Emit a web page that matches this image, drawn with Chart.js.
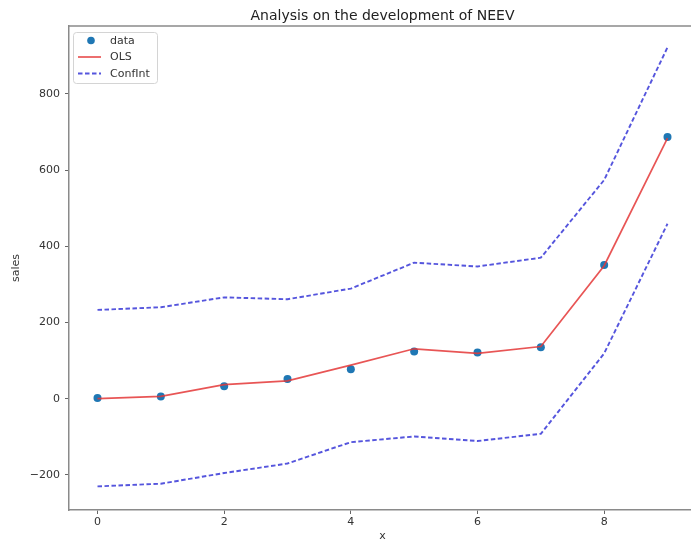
<!DOCTYPE html>
<html><head><meta charset="utf-8">
<script src="https://cdn.jsdelivr.net/npm/chart.js@4/dist/chart.umd.min.js"></script>
<style>
html,body{margin:0;padding:0;background:#fff;overflow:hidden}
#wrap{width:691px;height:542px;overflow:hidden;position:relative}
</style></head><body>
<div id="wrap"><canvas id="c" width="700" height="542"></canvas></div>
<script>
const xValues   = [0, 1, 2, 3, 4, 5, 6, 7, 8, 9];
const salesData = [2, 6, 33, 52, 77, 124, 121, 135, 351, 687];
const olsFit    = [0, 6, 37, 47, 88, 131, 119, 137, 349, 684];
const ciUpper   = [233, 240, 266, 261, 289, 357, 347, 370, 574, 922];
const ciLower   = [-230, -223, -195, -170, -114, -99, -111, -92, 119, 459];
const xTicks    = [0, 2, 4, 6, 8];
const yTicks    = [-200, 0, 200, 400, 600, 800];
const titleText = 'Analysis on the development of NEEV';

const FONT = "'DejaVu Sans', sans-serif";
const pts = arr => xValues.map((x, i) => ({x: x, y: arr[i]}));
const fmt = v => String(v).replace('-', '\u2212');

const RED = 'rgba(228,55,55,0.85)';
const BLUE = 'rgba(55,55,215,0.85)';
const DASH = [4.5, 2.5];

const framePlugin = {
  id: 'frame',
  afterDraw(chart) {
    const {ctx, chartArea: a} = chart;
    ctx.save();
    // top spine
    ctx.strokeStyle = '#8a8a8a';
    ctx.lineWidth = 1.5;
    ctx.beginPath();
    ctx.moveTo(a.left, a.top); ctx.lineTo(a.right, a.top);
    ctx.stroke();
    // title centred over the axes
    ctx.fillStyle = '#222';
    ctx.font = '14px ' + FONT;
    ctx.textAlign = 'center';
    ctx.textBaseline = 'alphabetic';
    ctx.fillText(titleText, (a.left + a.right) / 2, 19.5);
    // legend
    const ds = chart.data.datasets;
    const bx = a.left + 4, by = a.top + 6, bw = 84, bh = 51;
    ctx.fillStyle = 'rgba(255,255,255,0.85)';
    ctx.strokeStyle = '#d4d4d4';
    ctx.lineWidth = 1;
    ctx.beginPath();
    ctx.roundRect(bx + 0.5, by + 0.5, bw, bh, 3);
    ctx.fill(); ctx.stroke();
    const rows = [by + 8.5, by + 25, by + 41.5];
    ctx.font = '11px ' + FONT;
    ctx.textBaseline = 'middle';
    ctx.textAlign = 'left';
    ctx.fillStyle = ds[0].pointBackgroundColor;
    ctx.beginPath(); ctx.arc(bx + 18, rows[0], 3.8, 0, Math.PI * 2); ctx.fill();
    ctx.strokeStyle = ds[1].borderColor; ctx.lineWidth = ds[1].borderWidth;
    ctx.beginPath(); ctx.moveTo(bx + 5, rows[1]); ctx.lineTo(bx + 28, rows[1]); ctx.stroke();
    ctx.strokeStyle = ds[2].borderColor; ctx.lineWidth = ds[2].borderWidth;
    ctx.setLineDash(ds[2].borderDash);
    ctx.beginPath(); ctx.moveTo(bx + 5, rows[2]); ctx.lineTo(bx + 28, rows[2]); ctx.stroke();
    ctx.setLineDash([]);
    ctx.fillStyle = '#333';
    for (let i = 0; i < 3; i++) ctx.fillText(ds[i].label, bx + 37, rows[i] + 0.5);
    ctx.restore();
  }
};

new Chart(document.getElementById('c'), {
  type: 'line',
  data: {
    datasets: [
      {label: 'data', data: pts(salesData), showLine: false, pointRadius: 4, pointBackgroundColor: '#1f77b4', pointBorderWidth: 0, order: 3},
      {label: 'OLS', data: pts(olsFit), borderColor: RED, borderWidth: 1.7, pointRadius: 0, fill: false, order: 2},
      {label: 'ConfInt', data: pts(ciUpper), borderColor: BLUE, borderWidth: 1.9, borderDash: DASH, pointRadius: 0, fill: false, order: 1},
      {label: 'ConfInt lower', data: pts(ciLower), borderColor: BLUE, borderWidth: 1.9, borderDash: DASH, pointRadius: 0, fill: false, order: 0}
    ]
  },
  options: {
    responsive: false,
    animation: false,
    layout: {padding: {left: 0, right: 1, top: 26, bottom: 0}},
    plugins: {
      legend: {display: false},
      tooltip: {enabled: false},
      title: {display: false, text: titleText}
    },
    scales: {
      x: {
        type: 'linear', min: -0.45, max: 9.45,
        afterFit(s) { s.height = 32; s.paddingLeft = 0; s.paddingRight = 0; },
        afterBuildTicks(s) { s.ticks = xTicks.map(v => ({value: v})); },
        ticks: {color: '#333', padding: 2, font: {family: FONT, size: 11}, callback: v => fmt(v)},
        grid: {display: true, drawOnChartArea: false, drawTicks: true, tickLength: 4, color: '#666'},
        border: {display: true, color: '#8a8a8a', width: 1.5},
        title: {display: true, text: 'x', color: '#333', font: {family: FONT, size: 11}, padding: {top: 0, bottom: -1}}
      },
      y: {
        type: 'linear', min: -292, max: 978,
        afterFit(s) { s.width = 69; s.paddingTop = 0; s.paddingBottom = 0; },
        afterBuildTicks(s) { s.ticks = yTicks.map(v => ({value: v})); },
        ticks: {color: '#333', padding: 5, font: {family: FONT, size: 11}, callback: v => fmt(v)},
        grid: {display: true, drawOnChartArea: false, drawTicks: true, tickLength: 4, color: '#666'},
        border: {display: true, color: '#8a8a8a', width: 1.5},
        title: {display: true, text: 'sales', color: '#333', font: {family: FONT, size: 11}, padding: {top: 10, bottom: 0}}
      }
    }
  },
  plugins: [framePlugin]
});
</script>
</body></html>
